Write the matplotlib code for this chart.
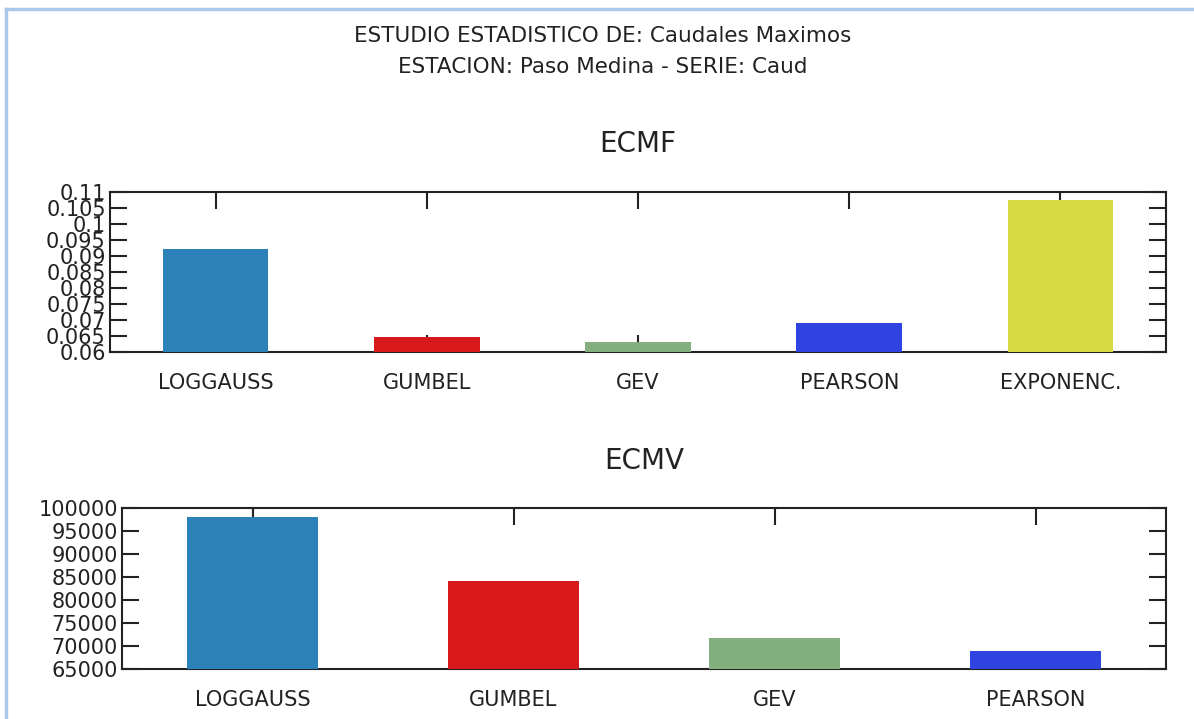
import numpy as np
import matplotlib.pyplot as plt
from matplotlib.lines import Line2D

# datos
ecmf_names = ['LOGGAUSS', 'GUMBEL', 'GEV', 'PEARSON', 'EXPONENC.']
ecmf_vals = [0.0922, 0.0647, 0.0631, 0.0691, 0.1075]
ecmf_ticks = [0.06, 0.065, 0.07, 0.075, 0.08, 0.085, 0.09, 0.095, 0.1, 0.105, 0.11]
ecmf_tick_labels = ['0.06', '0.065', '0.07', '0.075', '0.08', '0.085', '0.09', '0.095', '0.1', '0.105', '0.11']

ecmv_names = ['LOGGAUSS', 'GUMBEL', 'GEV', 'PEARSON']
ecmv_vals = [98100, 84100, 71800, 68900]
ecmv_ticks = [65000, 70000, 75000, 80000, 85000, 90000, 95000, 100000]

colors = ['#2c82b8', '#d7191c', '#83ae7e', '#2f43e0', '#d9d944']

plt.rcParams['font.family'] = ['DejaVu Sans']
W, H = 1194, 719
fig = plt.figure(figsize=(W / 100, H / 100), dpi=100)


def px_axes(x0, y0, x1, y1):
    return fig.add_axes([x0 / W, 1 - y1 / H, (x1 - x0) / W, (y1 - y0) / H])


def style(ax):
    for s in ax.spines.values():
        s.set_linewidth(1.5)
        s.set_color('#222222')
    ax.tick_params(direction='in', length=12, width=1.5, top=True, right=True,
                   labelsize=15, colors='#222222', pad=3)
    ax.tick_params(axis='x', pad=15)


ax1 = px_axes(110, 192, 1166, 352)
x1 = np.arange(len(ecmf_names))
ax1.bar(x1, ecmf_vals, width=0.5, color=colors[:len(ecmf_names)], zorder=3)
ax1.set_xlim(-0.5, len(ecmf_names) - 0.5)
ax1.set_ylim(0.06, 0.11)
ax1.set_xticks(x1)
ax1.set_xticklabels(ecmf_names)
ax1.set_yticks(ecmf_ticks)
ax1.set_yticklabels(ecmf_tick_labels)
style(ax1)
ax1.set_title('ECMF', fontsize=20, pad=29, color='#222222')

ax2 = px_axes(122, 508, 1166, 669)
x2 = np.arange(len(ecmv_names))
ax2.bar(x2, ecmv_vals, width=0.5, color=colors[:len(ecmv_names)], zorder=3)
ax2.set_xlim(-0.5, len(ecmv_names) - 0.5)
ax2.set_ylim(65000, 100000)
ax2.set_xticks(x2)
ax2.set_xticklabels(ecmv_names)
ax2.set_yticks(ecmv_ticks)
style(ax2)
ax2.set_title('ECMV', fontsize=20, pad=28, color='#222222')

fig.text(603 / W, 1 - 36 / H, 'ESTUDIO ESTADISTICO DE: Caudales Maximos',
         ha='center', va='center', fontsize=15.5, color='#222222')
fig.text(603 / W, 1 - 67 / H, 'ESTACION: Paso Medina - SERIE: Caud',
         ha='center', va='center', fontsize=15.5, color='#222222')

# marco azul claro de la ventana
fig.add_artist(Line2D([5.5 / W, 5.5 / W], [0, 1 - 9 / H], color='#a8c8ec', lw=2.5))
fig.add_artist(Line2D([5.5 / W, 1], [1 - 9 / H, 1 - 9 / H], color='#a8c8ec', lw=2.5))

fig.savefig('out.png', dpi=100)
